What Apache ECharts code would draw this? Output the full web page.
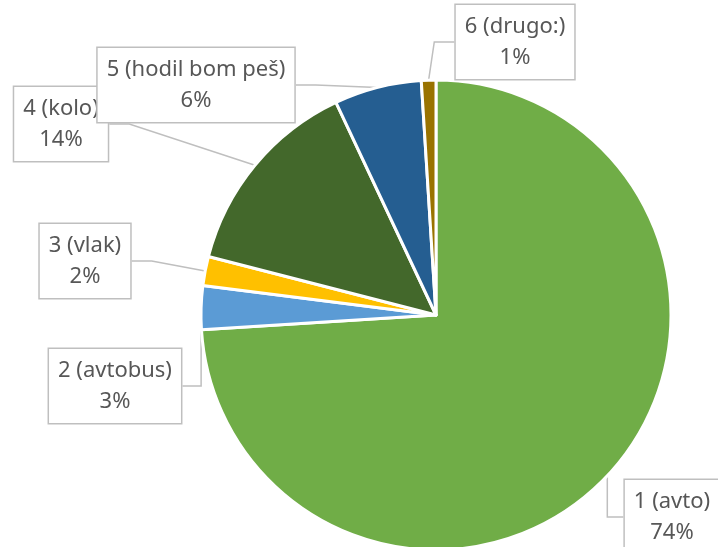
<!DOCTYPE html>
<html>
<head>
<meta charset="utf-8">
<script src="https://cdn.jsdelivr.net/npm/echarts@6/dist/echarts.min.js"></script>
<style>
  html, body { margin: 0; padding: 0; background: #fff; }
  #chart { width: 718px; height: 547px; }
</style>
</head>
<body>
<div id="chart"></div>
<script>
const categories = ['1 (avto)', '2 (avtobus)', '3 (vlak)', '4 (kolo)', '5 (hodil bom peš)', '6 (drugo:)']
const shares = [74, 3, 2, 14, 6, 1]
const colors = ['#70ad47', '#5b9bd5', '#ffc000', '#43682b', '#255e91', '#997300']

// label box centres
const labelSpots = [
  [672, 517],
  [115, 386],
  [85, 261],
  [61, 124],
  [196, 85],
  [515, 42]
]

const chart = echarts.init(document.getElementById('chart'))

chart.setOption({
  animation: false,
  series: [{
    type: 'pie',
    center: [436, 315],
    radius: 235,
    startAngle: 90,
    clockwise: true,
    avoidLabelOverlap: false,
    data: categories.map((name, i) => ({
      name,
      value: shares[i],
      itemStyle: { color: colors[i] }
    })),
    itemStyle: { borderColor: '#fff', borderWidth: 3 },
    label: {
      show: true,
      position: 'outside',
      formatter: '{b}\n{c}%',
      fontFamily: 'Noto Sans',
      fontSize: 22,
      lineHeight: 31,
      color: '#575757',
      align: 'center',
      backgroundColor: '#fff',
      borderColor: '#bfbfbf',
      borderWidth: 1.5,
      padding: [6, 9]
    },
    labelLine: {
      show: true,
      length: 20,
      length2: 20,
      lineStyle: { color: '#bfbfbf', width: 1.5 }
    },
    labelLayout: (params) => {
      const p = labelSpots[params.dataIndex]
      return { x: p[0], y: p[1], align: 'center', verticalAlign: 'middle' }
    }
  }]
})
</script>
</body>
</html>
